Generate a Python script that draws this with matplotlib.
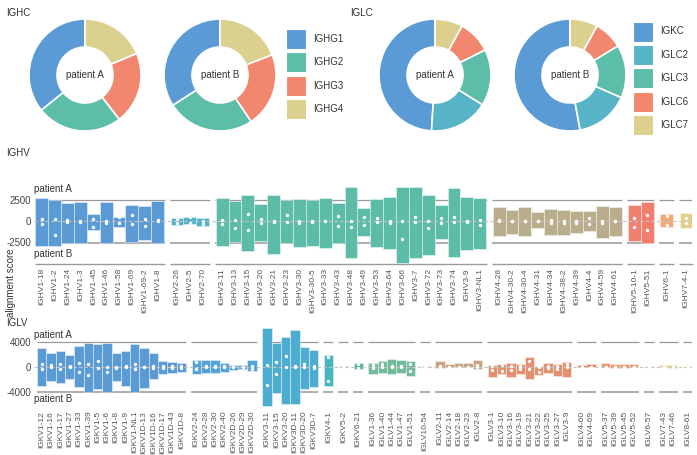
import matplotlib
matplotlib.use('Agg')
import matplotlib.pyplot as plt
from matplotlib.patches import Patch

W, H = 697, 455
plt.rcParams['font.family'] = ['Liberation Sans', 'DejaVu Sans']
TXT = '#333333'

# ---- constant region donuts ----
ighc_labels = ['IGHG1', 'IGHG2', 'IGHG3', 'IGHG4']
ighc_a = [35.8, 24.7, 20.8, 18.7]
ighc_b = [34.1, 25.3, 21.5, 19.1]
ighc_colors = ['#5b9bd5', '#5cbda9', '#f2876f', '#dcd08e']

iglc_labels = ['IGKC', 'IGLC2', 'IGLC3', 'IGLC6', 'IGLC7']
iglc_a = [49.0, 17.1, 16.3, 9.6, 8.0]
iglc_b = [52.9, 15.5, 15.3, 8.3, 8.0]
iglc_colors = ['#5b9bd5', '#56b4c6', '#5cbda9', '#f2876f', '#dcd08e']

# ---- IGHV alignment scores (top = patient A, bottom = patient B) ----
ighv_genes = ['IGHV1-18', 'IGHV1-2', 'IGHV1-24', 'IGHV1-3', 'IGHV1-45', 'IGHV1-46', 'IGHV1-58',
              'IGHV1-69', 'IGHV1-69-2', 'IGHV1-8',
              'IGHV2-26', 'IGHV2-5', 'IGHV2-70',
              'IGHV3-11', 'IGHV3-13', 'IGHV3-15', 'IGHV3-20', 'IGHV3-21', 'IGHV3-23', 'IGHV3-30',
              'IGHV3-30-5', 'IGHV3-33', 'IGHV3-43', 'IGHV3-48', 'IGHV3-49', 'IGHV3-53', 'IGHV3-64',
              'IGHV3-66', 'IGHV3-7', 'IGHV3-72', 'IGHV3-73', 'IGHV3-74', 'IGHV3-9', 'IGHV3-NL1',
              'IGHV4-28', 'IGHV4-30-2', 'IGHV4-30-4', 'IGHV4-31', 'IGHV4-34', 'IGHV4-38-2',
              'IGHV4-39', 'IGHV4-4', 'IGHV4-59', 'IGHV4-61',
              'IGHV5-10-1', 'IGHV5-51', 'IGHV6-1', 'IGHV7-4-1']
ighv_top = [2620, 2500, 2140, 2220, 790, 2220, 520, 1900, 1790, 2300,
            360, 520, 320,
            2620, 2380, 2980, 2020, 3020, 2420, 2580, 2420, 2620, 2100, 3930, 1510, 2580, 2780,
            4010, 3970, 3020, 1900, 3810, 2780, 2700,
            1630, 1230, 1590, 990, 1430, 1270, 1190, 1110, 1750, 1670,
            1900, 2260, 830, 910]
ighv_bottom = [-2860, -2860, -2540, -2540, -990, -2540, -710, -2460, -2260, -2540,
               -480, -400, -600,
               -2940, -2460, -3450, -2300, -3850, -2580, -3060, -2860, -3130, -2580, -4250, -1750,
               -3060, -3290, -4920, -4250, -4010, -2140, -4170, -3330, -3250,
               -1750, -1510, -1750, -790, -1670, -1590, -1350, -1110, -1980, -1750,
               -2300, -2580, -710, -870]
ighv_dot_a = [240, 240, 120, 50, 240, 50, 440, 670, 240, 60,
              240, 440, 0,
              120, 80, 870, 200, 40, 670, 20, 0, 40, 560, 0, 440, 400, 0,
              0, 480, 0, 360, 480, 0, 120,
              80, 0, 0, 0, 160, 40, 0, 320, 40, 0,
              320, 670, 600, 400]
ighv_dot_b = [-320, -1670, -120, -80, -710, -200, -200, -400, -630, -40,
              -280, -200, -400,
              -300, -790, -1030, -240, -60, -80, -200, -80, -40, -630, -750, -520, -120, -200,
              -2100, -80, -830, -240, -80, -80, -480,
              -40, -40, -40, -40, -240, -200, -200, -360, -280, -40,
              -670, -1030, -480, -240]
ighv_colors = {'IGHV1': '#5b9bd5', 'IGHV2': '#4fb2c9', 'IGHV3': '#5cbca8', 'IGHV4': '#b9ad8c',
               'IGHV5': '#f07f6f', 'IGHV6': '#f2a878', 'IGHV7': '#e3d08a'}

# ---- IGLV alignment scores ----
iglv_genes = ['IGKV1-12', 'IGKV1-16', 'IGKV1-17', 'IGKV1-27', 'IGKV1-33', 'IGKV1-39', 'IGKV1-5',
              'IGKV1-6', 'IGKV1-8', 'IGKV1-9', 'IGKV1-NL1', 'IGKV1D-13', 'IGKV1D-16', 'IGKV1D-17',
              'IGKV1D-43', 'IGKV1D-8',
              'IGKV2-24', 'IGKV2-28', 'IGKV2-30', 'IGKV2-40', 'IGKV2D-26', 'IGKV2D-29', 'IGKV2D-30',
              'IGKV3-11', 'IGKV3-15', 'IGKV3-20', 'IGKV3D-11', 'IGKV3D-20', 'IGKV3D-7',
              'IGKV4-1', 'IGKV5-2', 'IGKV6-21',
              'IGLV1-36', 'IGLV1-40', 'IGLV1-44', 'IGLV1-47', 'IGLV1-51', 'IGLV10-54',
              'IGLV2-11', 'IGLV2-14', 'IGLV2-18', 'IGLV2-23', 'IGLV2-8',
              'IGLV3-1', 'IGLV3-10', 'IGLV3-16', 'IGLV3-19', 'IGLV3-21', 'IGLV3-22', 'IGLV3-25',
              'IGLV3-27', 'IGLV3-9',
              'IGLV4-60', 'IGLV4-69', 'IGLV5-37', 'IGLV5-39', 'IGLV5-45', 'IGLV5-52',
              'IGLV6-57', 'IGLV7-43', 'IGLV7-46', 'IGLV8-61']
iglv_top = [3000, 2240, 2500, 1870, 3300, 3840, 3600, 3800, 2130, 2500, 3600, 3000, 2130, 960,
            750, 640,
            1130, 1070, 1130, 640, 320, 320, 1130,
            6240, 3790, 4800, 5870, 3100, 2600,
            1810, 100, 640,
            530, 900, 1230, 1070, 900, 100,
            900, 430, 530, 530, 1070,
            270, 370, 530, 430, 1490, 160, 530, 430, 800,
            270, 430, 530, 370, 370, 430,
            100, 270, 270, 100]
iglv_bottom = [-3040, -2290, -2560, -2030, -3310, -4000, -3630, -4000, -2290, -3040, -4000,
               -3360, -2030, -1230, -960, -850,
               -1230, -960, -1070, -800, -530, -430, -690,
               -6240, -4270, -6030, -6030, -3570, -3310,
               -3040, -50, -370,
               -1230, -960, -1170, -1070, -1440, -50,
               -270, -100, -100, -100, -370,
               -1600, -1170, -1700, -1230, -2030, -1330, -1070, -1490, -1600,
               -100, -100, -100, -160, -160, -100,
               -50, -100, -160, -50]
iglv_dot_a = [370, 200, 370, 160, 640, 370, 850, 0, 0, 100, 370, 0, 160, 100, 160, 100,
              690, 100, 160, 160, 0, 0, 160,
              270, 800, 1700, 160, 370, 160,
              1490, 0, 430,
              320, 370, 160, 160, 370, 0,
              100, 0, 0, 0, 270,
              160, 270, 160, 160, 960, 0, 160, 160, 430,
              0, 0, 0, 0, 0, 0,
              0, 0, 0, 0]
iglv_dot_b = [-370, -100, -370, -100, -900, -1330, -210, -900, -210, -100, -370, -100, -160,
              -210, -160, -260,
              -370, -100, -100, -100, -100, -100, -370,
              -2880, -1170, -100, -100, -100, -160,
              -2350, 0, -210,
              -210, -100, -100, -100, -750, 0,
              -100, 0, 0, 0, -100,
              -530, -640, -530, -430, -370, -800, -270, -370, -100,
              0, 0, 0, 0, 0, 0,
              0, 0, 0, 0]
iglv_colors = {'IGKV1': '#5b9bd5', 'IGKV2': '#55a3d6', 'IGKV3': '#4dadd0', 'IGKV4': '#45b5c0',
               'IGKV5': '#48b7ad', 'IGKV6': '#4fb9a0', 'IGLV1': '#72bb98', 'IGLV10': '#98b78e',
               'IGLV2': '#c9a382', 'IGLV3': '#e2906f', 'IGLV4': '#ee7d5f', 'IGLV5': '#f1946d',
               'IGLV6': '#f1ad72', 'IGLV7': '#efc27b', 'IGLV8': '#e4cd82'}


def px_box(left, top, right, bottom):
    return [left / W, 1 - bottom / H, (right - left) / W, (bottom - top) / H]


def donut(cx, cy, vals, colors, label):
    r = 56
    ax = fig.add_axes(px_box(cx - r, cy - r, cx + r, cy + r))
    wedges, _ = ax.pie(vals, colors=colors, startangle=90, counterclock=True, radius=1.0,
                       wedgeprops=dict(width=0.5, edgecolor='white', linewidth=1.2))
    for w in wedges:
        w.set_clip_on(False)
    ax.set_xlim(-1, 1)
    ax.set_ylim(-1, 1)
    ax.text(0, 0, label, ha='center', va='center', fontsize=7, color=TXT)


def group_of(name):
    return name.split('-')[0].rstrip('D')


def panel(zero_px, ppk, ylim, genes, tops, bottoms, dots_a, dots_b, colors, gap,
          ticks, pa_val, pb_val, ref, xpad, floor_line):
    top_px = zero_px - ylim[1] / 1000 * ppk
    bot_px = zero_px - ylim[0] / 1000 * ppk
    ax = fig.add_axes(px_box(34, top_px, 692, bot_px))
    xs, groups = [], []
    x = -1
    for g in genes:
        grp = group_of(g)
        if groups and grp != groups[-1]:
            x += gap
        x += 1
        xs.append(x)
        groups.append(grp)
    cols = [colors[g] for g in groups]
    heights = [t - b for t, b in zip(tops, bottoms)]
    ax.bar(xs, heights, bottom=bottoms, width=1.0, color=cols, edgecolor=(1, 1, 1, 0.75),
           linewidth=0.4, zorder=2)
    ax.scatter(xs, dots_a, s=6, color='white', zorder=4, linewidths=0)
    ax.scatter(xs, dots_b, s=6, color='white', zorder=4, linewidths=0)
    ax.axhline(0, color='#c4c4c4', lw=0.8, ls=(0, (3, 2)), zorder=3)

    ppu = 658 / (xs[-1] + xpad[0] + xpad[1])
    ext = 0.5 + gap / 2 - 2.5 / ppu
    seen = []
    for grp in groups:
        if grp in seen:
            continue
        seen.append(grp)
        gx = [xx for xx, gg in zip(xs, groups) if gg == grp]
        ax.hlines(ref, gx[0] - ext, gx[-1] + ext, color='#9a9a9a', lw=0.9, zorder=1)
        ax.hlines(-ref, gx[0] - ext, gx[-1] + ext, color='#b0b0b0', lw=1.5, zorder=1)
        if floor_line:
            ax.hlines(ylim[0], gx[0] - ext, gx[-1] + ext, color='#9a9a9a', lw=1.0,
                      zorder=1, clip_on=False)

    ax.set_xlim(-xpad[0], xs[-1] + xpad[1])
    ax.set_ylim(*ylim)
    ax.set_xticks(xs)
    ax.set_xticklabels(genes, rotation=90, fontsize=6, color='#555555')
    ax.set_yticks(ticks)
    ax.set_yticklabels([str(t) for t in ticks])
    ax.tick_params(axis='y', length=0, pad=2, labelsize=7, labelcolor='#444444')
    ax.tick_params(axis='x', length=0, pad=3)
    for s in ax.spines.values():
        s.set_visible(False)
    ax.patch.set_alpha(0)
    ax.text(0, pa_val, 'patient A', transform=ax.get_yaxis_transform(), ha='left',
            va='center', fontsize=7, color=TXT)
    ax.text(0, pb_val, 'patient B', transform=ax.get_yaxis_transform(), ha='left',
            va='center', fontsize=7, color=TXT)
    return ax


fig = plt.figure(figsize=(W / 100, H / 100), dpi=100)

donut(85, 75, ighc_a, ighc_colors, 'patient A')
donut(220, 75, ighc_b, ighc_colors, 'patient B')
donut(435, 75, iglc_a, iglc_colors, 'patient A')
donut(570, 75, iglc_b, iglc_colors, 'patient B')

for labels, colors, lx, ly in [(ighc_labels, ighc_colors, 286, 29), (iglc_labels, iglc_colors, 633, 21.5)]:
    handles = [Patch(facecolor=c, edgecolor='white', linewidth=0.8) for c in colors]
    fig.legend(handles, labels, loc='upper left', bbox_to_anchor=(lx / W, 1 - ly / H),
               frameon=False, handlelength=2.05, handleheight=2.79, handletextpad=0.72,
               labelspacing=0.35, borderpad=0, borderaxespad=0, fontsize=7,
               labelcolor=TXT)

fig.text(6 / W, 1 - 12.5 / H, 'IGHC', fontsize=7, color=TXT, va='center')
fig.text(350 / W, 1 - 12.5 / H, 'IGLC', fontsize=7, color=TXT, va='center')
fig.text(6 / W, 1 - 153 / H, 'IGHV', fontsize=7, color=TXT, va='center')
fig.text(6 / W, 1 - 323 / H, 'IGLV', fontsize=7, color=TXT, va='center')
fig.text(11 / W, 1 - 283 / H, 'alignment score', rotation=90, fontsize=7, color=TXT,
         ha='center', va='center')

panel(221, 8.6, (-5000, 4500), ighv_genes, ighv_top, ighv_bottom, ighv_dot_a, ighv_dot_b,
      ighv_colors, 0.5, [2500, 0, -2500], 3720, -3840, 2500, (0.6, 0.47), True)
panel(366.7, 6.25, (-6400, 6600), iglv_genes, iglv_top, iglv_bottom, iglv_dot_a, iglv_dot_b,
      iglv_colors, 0.6, [4000, 0, -4000], 5070, -5170, 4000, (0.83, 0.46), False)

fig.savefig('out.png', dpi=100)
